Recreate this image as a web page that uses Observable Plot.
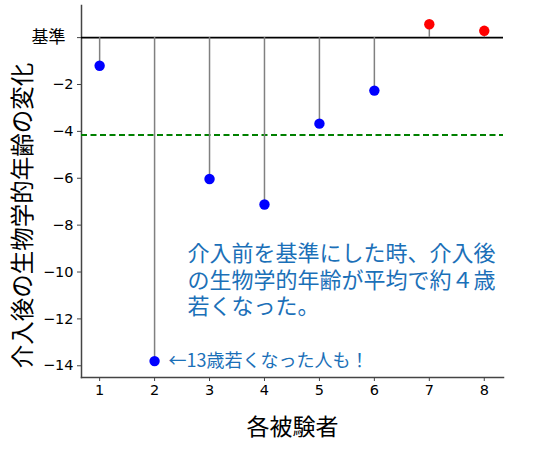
<!DOCTYPE html>
<html>
<head>
<meta charset="utf-8">
<script src="https://cdn.jsdelivr.net/npm/d3@7"></script>
<script src="https://cdn.jsdelivr.net/npm/@observablehq/plot@0.6"></script>
<style>
  body { margin: 0; background: white; }
  #chart svg { display: block; }
</style>
</head>
<body>
<div id="chart"></div>
<script>
const subjects = [1, 2, 3, 4, 5, 6, 7, 8];
const changes = [-1.2, -13.8, -6.03, -7.12, -3.67, -2.26, 0.57, 0.29];
const yTickValues = [-14, -12, -10, -8, -6, -4, -2];
const baselineLabel = "基準";
const xTitle = "各被験者";
const yTitle = "介入後の生物学的年齢の変化";
const mainNote = "介入前を基準にした時、介入後\nの生物学的年齢が平均で約４歳\n若くなった。";
const sideNote = "←13歳若くなった人も！";

const data = subjects.map((s, i) => ({subject: s, change: changes[i]}));
const meanChange = d3.mean(changes);
const minChange = d3.min(data, d => d.change);
const minSubject = data.find(d => d.change === minChange).subject;

const cjk = "'Noto Sans CJK JP', sans-serif";
const num = "'DejaVu Sans', sans-serif";
const noteColor = "#1b70b8";
const fmt = d => String(d).replace("-", "\u2212");

const chart = Plot.plot({
  width: 536,
  height: 457,
  marginLeft: 81,
  marginRight: 33,
  marginTop: 5,
  marginBottom: 80,
  style: {background: "white", fontFamily: num, color: "black"},
  x: {domain: [0.67, 8.35]},
  y: {domain: [-14.5, 1.37]},
  marks: [
    Plot.frame({anchor: "left", stroke: "#444", strokeWidth: 1.5}),
    Plot.frame({anchor: "bottom", stroke: "#444", strokeWidth: 1.5}),
    Plot.axisX({ticks: subjects, tickFormat: () => "", tickSize: 4, label: null, stroke: "#444"}),
    Plot.axisY({ticks: [...yTickValues, 0], tickFormat: () => "", tickSize: 4, label: null, stroke: "#444"}),
    Plot.text(subjects, {x: d => d, frameAnchor: "bottom", dy: 7, text: d => String(d), lineAnchor: "top", fontSize: 14.5, fill: "black", fontFamily: num}),
    Plot.text(yTickValues, {y: d => d, frameAnchor: "left", dx: -8, text: fmt, textAnchor: "end", lineAnchor: "middle", fontSize: 14.5, fill: "black", fontFamily: num}),
    Plot.text([0], {y: d => d, frameAnchor: "left", dx: -16, text: () => baselineLabel, textAnchor: "end", lineAnchor: "middle", fontSize: 17, fill: "black", fontFamily: cjk}),
    Plot.ruleY([0], {stroke: "black", strokeWidth: 1.6}),
    Plot.ruleY([meanChange], {stroke: "green", strokeWidth: 2, strokeDasharray: "6,3.5"}),
    Plot.ruleX(data, {x: "subject", y1: 0, y2: "change", stroke: "gray", strokeWidth: 1.5}),
    Plot.dot(data, {x: "subject", y: "change", r: 5.2, fill: d => d.change < 0 ? "blue" : "red", stroke: "none"}),
    Plot.text([mainNote], {x: 2.6, y: -10.3, text: d => d, textAnchor: "start", lineAnchor: "middle", lineHeight: 1.21, fontSize: 22, fill: noteColor, fontFamily: cjk}),
    Plot.text([sideNote], {x: minSubject + 0.255, y: minChange, text: d => d, textAnchor: "start", lineAnchor: "middle", fontSize: 18, fill: noteColor, fontFamily: cjk}),
    Plot.text([xTitle], {frameAnchor: "bottom", dy: 50, text: d => d, lineAnchor: "middle", fontSize: 23, fill: "black", fontFamily: cjk}),
    Plot.text([yTitle], {frameAnchor: "left", rotate: -90, dx: -58, dy: 24, text: d => d, lineAnchor: "middle", textAnchor: "middle", fontSize: 23.5, fill: "black", fontFamily: cjk})
  ]
});
document.getElementById("chart").appendChild(chart);
</script>
</body>
</html>
